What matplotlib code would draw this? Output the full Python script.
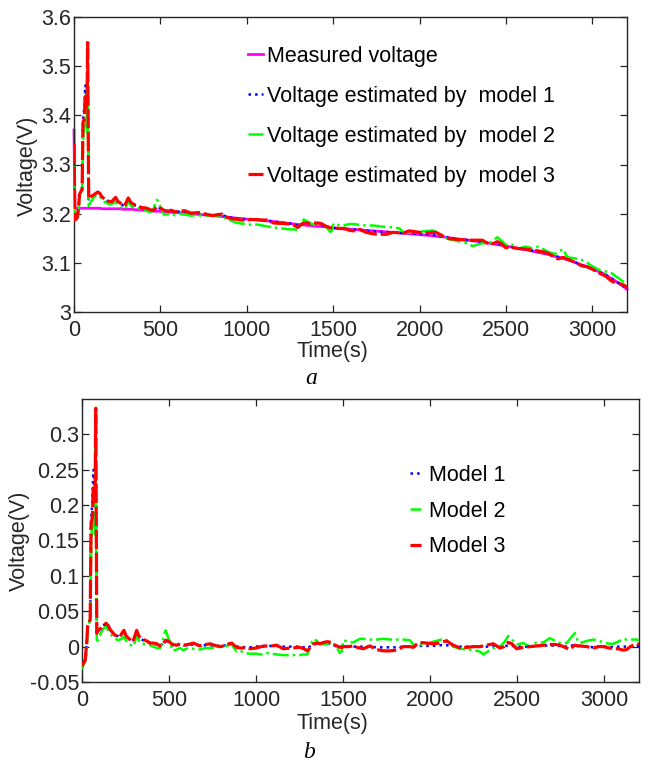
import numpy as np
import matplotlib
matplotlib.use("Agg")
import matplotlib.pyplot as plt

# ---------------- data ----------------
time_s = [0, 5, 12, 18, 24, 28, 32, 40, 47, 52, 56, 60, 64, 67, 71, 75, 79, 82, 85,
          95, 110, 125, 138, 150, 162, 176, 190, 205, 218, 232, 241, 254, 266, 280,
          292, 302, 314, 325, 335, 352, 372, 391, 410, 430, 448, 460, 472, 481, 492,
          506, 520, 545, 563, 582, 610, 640, 678, 710, 736, 773, 800, 830, 860, 888,
          910, 935, 965, 1000, 1030, 1060, 1090, 1118, 1156, 1200, 1251, 1275, 1295,
          1315, 1330, 1350, 1367, 1390, 1410, 1430, 1455, 1482, 1492, 1501, 1530,
          1558, 1580, 1597, 1616, 1654, 1690, 1731, 1770, 1808, 1846, 1884, 1903,
          1922, 1941, 1980, 2018, 2050, 2075, 2095, 2133, 2172, 2210, 2250, 2286,
          2305, 2325, 2343, 2363, 2401, 2425, 2449, 2470, 2497, 2535, 2573, 2612,
          2650, 2688, 2720, 2746, 2784, 2800, 2820, 2832, 2848, 2860, 2900, 2937,
          2970, 2995, 3030, 3052, 3080, 3110, 3130, 3150, 3186, 3200]

measured_v = [3.370, 3.212, 3.211, 3.211, 3.211, 3.211, 3.211, 3.211, 3.211, 3.211,
              3.211, 3.211, 3.211, 3.211, 3.211, 3.211, 3.211, 3.211, 3.211,
              3.211, 3.211, 3.211, 3.211, 3.211, 3.210, 3.210, 3.210, 3.210, 3.210,
              3.210, 3.210, 3.210, 3.210, 3.209, 3.209, 3.209, 3.209, 3.209, 3.209,
              3.208, 3.208, 3.207, 3.207, 3.206, 3.206, 3.205, 3.205, 3.205, 3.205,
              3.204, 3.204, 3.203, 3.203, 3.202, 3.202, 3.201, 3.200, 3.199, 3.198,
              3.197, 3.196, 3.195, 3.194, 3.193, 3.192, 3.191, 3.190, 3.189, 3.188,
              3.187, 3.186, 3.185, 3.184, 3.182, 3.180, 3.179, 3.178, 3.178, 3.177,
              3.176, 3.176, 3.175, 3.174, 3.174, 3.173, 3.172, 3.172, 3.171, 3.170,
              3.169, 3.169, 3.168, 3.168, 3.167, 3.166, 3.165, 3.164, 3.163, 3.162,
              3.161, 3.160, 3.160, 3.159, 3.158, 3.157, 3.156, 3.155, 3.154, 3.153,
              3.151, 3.149, 3.147, 3.146, 3.145, 3.144, 3.143, 3.142, 3.140, 3.139,
              3.137, 3.136, 3.134, 3.132, 3.129, 3.127, 3.124, 3.121, 3.119, 3.117,
              3.113, 3.112, 3.110, 3.109, 3.107, 3.106, 3.101, 3.096, 3.092, 3.088,
              3.083, 3.080, 3.075, 3.068, 3.064, 3.059, 3.050, 3.046]

error_model1 = [-0.030, -0.026, -0.022, -0.018, -0.005, 0.010, 0.028, 0.034, 0.040, 0.180,
                0.190, 0.210, 0.240, 0.250, 0.220, 0.200, 0.315, 0.150, 0.018,
                0.022, 0.026, 0.030, 0.033, 0.030, 0.024, 0.020, 0.016, 0.015, 0.014,
                0.019, 0.022, 0.015, 0.012, 0.009, 0.006, 0.012, 0.021, 0.015, 0.011,
                0.009, 0.007, 0.005, 0.004, 0.003, 0.002, 0.003, 0.006, 0.008, 0.007,
                0.004, 0.002, 0.002, 0.003, 0.002, 0.002, 0.003, 0.001, 0.002, 0.002,
                0.001, 0.001, 0.002, 0.003, 0.000, 0.000, -0.001, -0.001, 0.000, 0.001,
                0.001, 0.001, 0.001, 0.000, 0.000, 0.000, -0.001, -0.002, 0.001, 0.003,
                0.004, 0.005, 0.005, 0.005, 0.003, 0.001, 0.000, 0.000, 0.000, 0.000,
                0.000, 0.000, 0.000, 0.000, 0.000, -0.001, -0.001, -0.001, -0.001, 0.000,
                0.000, 0.000, 0.001, 0.001, 0.001, 0.001, 0.002, 0.002, 0.002, 0.000,
                0.000, 0.000, 0.000, 0.000, 0.000, 0.000, 0.000, 0.001, 0.000, 0.000,
                0.002, 0.001, 0.000, 0.000, 0.000, 0.001, 0.001, 0.002, 0.001, 0.001,
                0.000, 0.000, 0.002, 0.002, 0.001, 0.001, 0.000, -0.001, 0.000, 0.000,
                0.000, -0.001, 0.000, 0.000, 0.000, 0.000, 0.001, 0.001]

error_model2 = [-0.032, -0.028, -0.024, -0.020, -0.012, 0.000, 0.027, 0.032, 0.038, 0.120,
                0.165, 0.174, 0.180, 0.190, 0.175, 0.155, 0.282, 0.120, 0.005,
                0.012, 0.020, 0.026, 0.028, 0.024, 0.019, 0.014, 0.012, 0.009, 0.010,
                0.012, 0.014, 0.008, 0.005, 0.002, 0.000, 0.005, 0.016, 0.010, 0.005,
                0.004, 0.003, 0.002, 0.000, -0.002, -0.002, 0.004, 0.018, 0.023, 0.015,
                0.006, -0.006, -0.004, -0.002, -0.005, -0.002, -0.003, -0.004, -0.002, -0.002,
                -0.001, 0.000, 0.001, 0.003, -0.007, -0.006, -0.009, -0.010, -0.010, -0.011,
                -0.009, -0.010, -0.011, -0.012, -0.012, -0.012, -0.011, -0.011, 0.004, 0.011,
                0.008, 0.004, 0.003, 0.004, 0.005, 0.002, -0.009, -0.007, 0.009, 0.007,
                0.006, 0.009, 0.011, 0.011, 0.010, 0.010, 0.011, 0.010, 0.010, 0.010,
                0.009, 0.003, 0.001, 0.002, 0.004, 0.007, 0.009, 0.011, 0.009, 0.000,
                -0.003, -0.004, -0.005, -0.007, -0.011, -0.008, -0.005, -0.002, 0.000, 0.006,
                0.015, 0.010, 0.003, 0.005, 0.000, 0.006, 0.006, 0.012, 0.008, 0.005,
                0.005, 0.010, 0.016, 0.019, 0.008, 0.005, 0.008, 0.010, 0.008, 0.006,
                0.004, 0.004, 0.007, 0.011, 0.010, 0.010, 0.010, 0.009]

error_model3 = [-0.028, -0.025, -0.022, -0.020, -0.004, 0.008, 0.028, 0.034, 0.038, 0.174,
                0.178, 0.185, 0.222, 0.228, 0.205, 0.210, 0.337, 0.160, 0.019,
                0.024, 0.026, 0.030, 0.033, 0.030, 0.024, 0.020, 0.016, 0.015, 0.014,
                0.020, 0.023, 0.015, 0.012, 0.009, 0.007, 0.014, 0.023, 0.016, 0.012,
                0.010, 0.008, 0.005, 0.005, 0.004, 0.001, 0.002, 0.006, 0.009, 0.008,
                0.006, 0.003, 0.002, 0.004, 0.002, 0.003, 0.005, 0.001, 0.003, 0.004,
                0.001, 0.000, 0.003, 0.005, -0.001, -0.002, -0.002, -0.003, -0.002, 0.000,
                0.001, 0.001, 0.002, -0.003, -0.002, -0.001, -0.003, -0.006, 0.000, 0.004,
                0.005, 0.004, 0.006, 0.007, 0.006, 0.002, -0.001, -0.001, 0.000, 0.000,
                0.001, -0.001, -0.002, -0.003, 0.001, -0.004, -0.006, -0.006, -0.005, 0.000,
                0.000, -0.001, 0.003, 0.006, 0.005, 0.004, 0.005, 0.007, 0.008, 0.002,
                -0.002, -0.001, 0.000, 0.000, 0.001, 0.002, 0.003, 0.004, -0.002, 0.000,
                0.006, 0.004, -0.003, -0.001, 0.000, 0.001, 0.002, 0.003, 0.003, 0.002,
                -0.002, -0.004, 0.000, 0.002, 0.001, 0.001, 0.000, -0.002, 0.000, 0.000,
                -0.002, -0.003, -0.003, -0.005, -0.004, 0.000, 0.004, 0.003]

top_legend_labels = ["Measured voltage", "Voltage estimated by  model 1",
                     "Voltage estimated by  model 2", "Voltage estimated by  model 3"]
bottom_legend_labels = ["Model 1", "Model 2", "Model 3"]
x_ticks = [0, 500, 1000, 1500, 2000, 2500, 3000]
top_y_ticks = [3.0, 3.1, 3.2, 3.3, 3.4, 3.5, 3.6]
top_y_ticklabels = ["3", "3.1", "3.2", "3.3", "3.4", "3.5", "3.6"]
bottom_y_ticks = [-0.05, 0, 0.05, 0.1, 0.15, 0.2, 0.25, 0.3]
bottom_y_ticklabels = ["-0.05", "0", "0.05", "0.1", "0.15", "0.2", "0.25", "0.3"]

# ---------------- derived series ----------------
t = np.array(time_s, dtype=float)
meas = np.array(measured_v)
e1 = np.array(error_model1)
e2 = np.array(error_model2)
e3 = np.array(error_model3)
est1, est2, est3 = meas + e1, meas + e2, meas + e3

# ---------------- figure ----------------
plt.rcParams['font.family'] = ['Liberation Sans', 'DejaVu Sans']
W, H = 649, 762
fig = plt.figure(figsize=(W / 100, H / 100), dpi=100)

def axes_px(l, r, top, bot):
    return fig.add_axes([l / W, 1 - bot / H, (r - l) / W, (bot - top) / H])

ax1 = axes_px(74, 627, 17, 312)
ax2 = axes_px(82, 639, 399, 682)

C_MAG, C_BLUE, C_GREEN, C_RED = '#FF00FF', '#0000FF', '#00FF00', '#FF0000'
FS = 15.5
TXT = '#262626'

# top panel
ax1.plot(t, meas, color=C_MAG, lw=2.0, label=top_legend_labels[0], zorder=2, clip_on=False)
ax1.plot(t, est1, color=C_BLUE, lw=1.8, ls=':', label=top_legend_labels[1], zorder=3)
ax1.plot(t, est2, color=C_GREEN, lw=1.8, ls='-.', label=top_legend_labels[2], zorder=4)
ax1.plot(t, est3, color=C_RED, lw=2.3, ls=(0, (6, 1.2)), label=top_legend_labels[3], zorder=5)
ax1.set_xlim(0, 3200)
ax1.set_ylim(3.0, 3.6)
ax1.set_yticks(top_y_ticks)
ax1.set_yticklabels(top_y_ticklabels)

# bottom panel
ax2.plot(t, e1, color=C_BLUE, lw=1.8, ls=':', label=bottom_legend_labels[0], zorder=3)
ax2.plot(t, e2, color=C_GREEN, lw=1.8, ls='-.', label=bottom_legend_labels[1], zorder=4)
ax2.plot(t, e3, color=C_RED, lw=2.3, ls=(0, (6, 1.2)), label=bottom_legend_labels[2], zorder=5)
ax2.set_xlim(0, 3200)
ax2.set_ylim(-0.05, 0.35)
ax2.set_yticks(bottom_y_ticks)
ax2.set_yticklabels(bottom_y_ticklabels)

for ax in (ax1, ax2):
    ax.set_xticks(x_ticks)
    ax.set_xticklabels([str(v) for v in x_ticks])
    ax.tick_params(direction='in', length=5, width=0.9, top=True, right=True,
                   labelsize=FS, colors=TXT, labelcolor=TXT)
    ax.tick_params(axis='y', pad=2)
    ax.tick_params(axis='x', pad=6)
    for s in ax.spines.values():
        s.set_linewidth(1.0)
        s.set_color(TXT)

# axis labels placed like the reference
fig.text(27 / W, 1 - 166 / H, "Voltage(V)", rotation=90, ha='center', va='center',
         fontsize=FS, color=TXT)
fig.text(19 / W, 1 - 541 / H, "Voltage(V)", rotation=90, ha='center', va='center',
         fontsize=FS, color=TXT)
fig.text(332 / W, 1 - 351 / H, "Time(s)", ha='center', va='center', fontsize=FS, color=TXT)
fig.text(332 / W, 1 - 723 / H, "Time(s)", ha='center', va='center', fontsize=FS, color=TXT)
fig.text(311 / W, 1 - 378 / H, "a", ha='center', va='center', fontsize=17,
         family='Liberation Serif', style='italic', color='black')
fig.text(309 / W, 1 - 753 / H, "b", ha='center', va='center', fontsize=17,
         family='Liberation Serif', style='italic', color='black')

leg1 = ax1.legend(loc='upper left', bbox_to_anchor=(248 / W, 1 - 46 / H),
                  bbox_transform=fig.transFigure, frameon=False, fontsize=FS,
                  handlelength=0.7, handletextpad=0.2, labelspacing=0.88,
                  borderpad=0, borderaxespad=0)
leg2 = ax2.legend(loc='upper left', bbox_to_anchor=(410 / W, 1 - 465 / H),
                  bbox_transform=fig.transFigure, frameon=False, fontsize=FS,
                  handlelength=0.5, handletextpad=0.4, labelspacing=0.68,
                  borderpad=0, borderaxespad=0)
for leg in (leg1, leg2):
    for txt in leg.get_texts():
        txt.set_color('black')

fig.savefig("out.png", dpi=100)
